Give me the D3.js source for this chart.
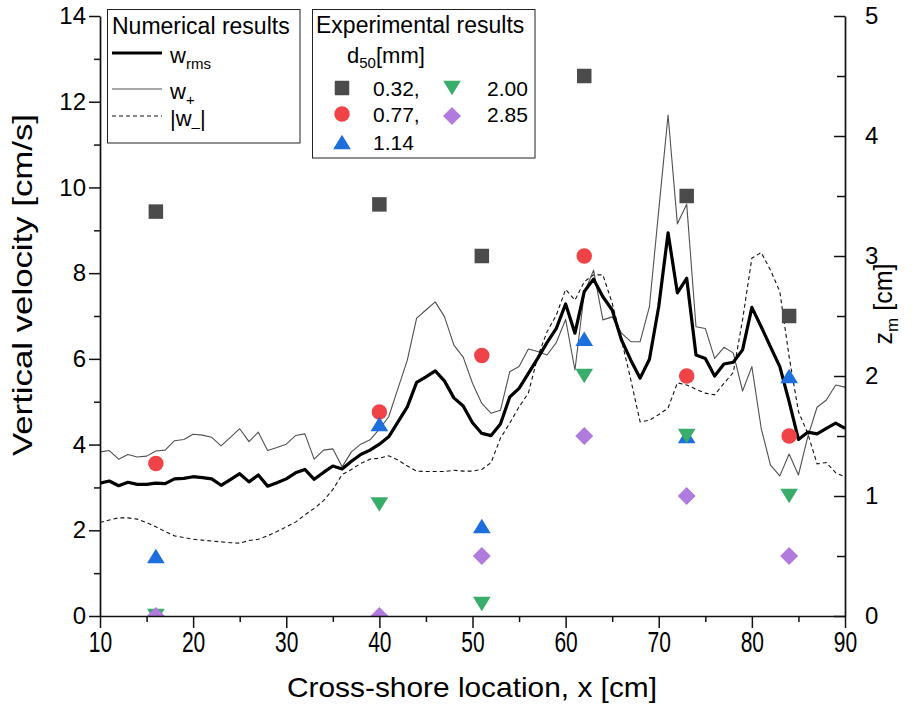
<!DOCTYPE html>
<html>
<head>
<meta charset="utf-8">
<script src="https://cdn.jsdelivr.net/npm/d3@7"></script>
<style>
  body { margin: 0; background: #fff; }
  svg { display: block; }
  text { font-family: "Liberation Sans", Arial, sans-serif; fill: #000; }
</style>
</head>
<body>
<svg id="chart" width="914" height="709"></svg>
<script>
// Cross-shore positions of the numerical profiles [cm]
const xGrid = [10,11,12,13,14,15,16,17,18,19,20,21,22,23,24,25,26,27,28,29,30,
  31,32,33,34,35,36,37,38,39,40,41,42,43,44,45,46,47,48,49,50,
  51,52,53,54,55,56,57,58,59,60,61,62,63,64,65,66,67,68,69,70,
  71,72,73,74,75,76,77,78,79,80,81,82,83,84,85,86,87,88,89,90];

// Numerical results: vertical velocity [cm/s]
const wRms = [3.10,3.15,3.04,3.12,3.07,3.07,3.10,3.09,3.20,3.21,3.25,3.23,3.20,3.05,3.18,3.32,3.13,3.29,3.03,3.11,3.20,
  3.34,3.42,3.19,3.35,3.50,3.43,3.61,3.77,3.87,4.01,4.18,4.53,4.88,5.45,5.58,5.72,5.48,5.09,4.90,4.51,
  4.26,4.21,4.48,5.11,5.31,5.66,6.01,6.38,6.71,7.28,6.60,7.57,7.86,7.45,7.14,6.44,5.97,5.55,5.99,7.22,
  8.94,7.54,7.88,6.09,6.01,5.60,5.88,5.92,6.21,7.20,6.75,6.28,5.82,5.00,4.12,4.29,4.25,4.38,4.50,4.38];

const wPlus = [3.83,3.86,3.66,3.77,3.71,3.73,3.85,3.87,4.09,4.12,4.24,4.22,4.17,3.97,4.17,4.37,4.07,4.29,3.86,3.93,4.01,
  4.21,4.25,3.66,3.87,3.90,3.48,3.83,4.01,4.11,4.36,4.65,5.31,5.97,6.95,7.14,7.33,6.98,6.32,6.04,5.43,
  4.96,4.73,4.80,5.70,5.82,6.23,6.17,6.09,6.38,6.92,5.74,7.53,8.07,6.91,6.98,6.60,6.40,6.40,7.22,9.47,
  11.69,9.15,9.61,6.75,6.71,6.01,6.27,6.14,5.25,5.82,4.38,3.52,3.27,3.78,3.29,4.18,4.87,5.04,5.39,5.34];

const wMinusAbs = [2.18,2.24,2.29,2.29,2.26,2.18,2.08,1.97,1.87,1.83,1.79,1.77,1.75,1.73,1.71,1.70,1.76,1.79,1.87,1.97,2.08,
  2.19,2.36,2.51,2.69,2.95,3.30,3.42,3.56,3.66,3.68,3.74,3.64,3.50,3.38,3.37,3.37,3.37,3.40,3.38,3.38,
  3.42,3.58,4.15,4.50,4.88,5.20,6.05,6.63,7.02,7.62,7.37,7.80,7.96,7.96,7.30,6.44,5.51,4.53,4.57,4.70,
  4.85,5.44,5.39,5.29,5.20,5.16,5.43,5.68,6.91,8.35,8.48,8.07,7.57,6.05,4.77,4.26,3.55,3.58,3.34,3.25];

// Experimental results: z_m [cm] at the measuring stations
const xStations = [16, 40, 51, 62, 73, 84];
const d50Labels = ["0.32,", "0.77,", "1.14", "2.00", "2.85"];
const zm032 = [3.37, 3.43, 3.00, 4.50, 3.50, 2.50];
const zm077 = [1.27, 1.70, 2.17, 3.00, 2.00, 1.50];
const zm114 = [0.50, 1.60, 0.75, 2.31, 1.50, 2.00];
const zm200 = [0.00, 0.93, 0.10, 2.00, 1.50, 1.00];
const zm285 = [0.00, 0.00, 0.50, 1.50, 1.00, 0.50];

// Axis ticks
const xTicks = [10, 20, 30, 40, 50, 60, 70, 80, 90];
const xMinorTicks = [15, 25, 35, 45, 55, 65, 75, 85];
const yLeftTicks = [0, 2, 4, 6, 8, 10, 12, 14];
const yLeftMinor = [1, 3, 5, 7, 9, 11, 13];
const yRightTicks = [0, 1, 2, 3, 4, 5];
const yRightMinor = [0.5, 1.5, 2.5, 3.5, 4.5];

const svg = d3.select("#chart");
const L = 100, R = 845, T = 16, B = 616;

const x = d3.scaleLinear().domain([10, 90]).range([L, R]);
const yL = d3.scaleLinear().domain([0, 14]).range([B, T]);
const yR = d3.scaleLinear().domain([0, 5]).range([B, T]);

svg.append("defs").append("clipPath").attr("id", "plotClip")
  .append("rect").attr("x", L).attr("y", T).attr("width", R - L).attr("height", B - T);

// Marker shapes, centred on their bounding box
const shapes = {
  square: s => `M${-s/2},${-s/2}h${s}v${s}h${-s}Z`,
  circle: s => { const r = s / 2; return `M${r},0A${r},${r} 0 1,1 ${-r},0A${r},${r} 0 1,1 ${r},0Z`; },
  up: s => { const w = s * 1.22 / 2, h = s / 2; return `M0,${-h}L${w},${h}L${-w},${h}Z`; },
  down: s => { const w = s * 1.22 / 2, h = s / 2; return `M0,${h}L${w},${-h}L${-w},${-h}Z`; },
  diamond: s => { const h = s / 2; return `M0,${-h}L${h},0L0,${h}L${-h},0Z`; }
};

const expSeries = [
  { label: d50Labels[0], values: zm032, shape: "square",  size: 14.5, color: "#4b4b4b" },
  { label: d50Labels[1], values: zm077, shape: "circle",  size: 15.5, color: "#f04347" },
  { label: d50Labels[2], values: zm114, shape: "up",      size: 14.5, color: "#1c6fdc" },
  { label: d50Labels[3], values: zm200, shape: "down",    size: 14.5, color: "#39ad6a" },
  { label: d50Labels[4], values: zm285, shape: "diamond", size: 18,   color: "#b07bdc" }
];

// Numerical profiles
const plot = svg.append("g").attr("clip-path", "url(#plotClip)");
const lineOf = vals => d3.line().x((d, i) => x(xGrid[i])).y(d => yL(d))(vals);

plot.append("path").attr("d", lineOf(wMinusAbs))
  .attr("fill", "none").attr("stroke", "#111").attr("stroke-width", 1.1)
  .attr("stroke-dasharray", "4,3");
plot.append("path").attr("d", lineOf(wPlus))
  .attr("fill", "none").attr("stroke", "#505050").attr("stroke-width", 1.1)
  .attr("stroke-linejoin", "round");
plot.append("path").attr("d", lineOf(wRms))
  .attr("fill", "none").attr("stroke", "#000").attr("stroke-width", 3.2)
  .attr("stroke-linejoin", "round");

// Experimental markers on the right axis
expSeries.forEach(s => {
  plot.append("g").selectAll("path").data(s.values).join("path")
    .attr("transform", (d, i) => `translate(${x(xStations[i])},${yR(d)})`)
    .attr("d", shapes[s.shape](s.size))
    .attr("fill", s.color);
});

// Axes
const axisStyle = g => {
  g.select(".domain").attr("stroke", "#111").attr("stroke-width", 1.7);
  g.selectAll(".tick line").attr("stroke", "#111").attr("stroke-width", 1.5);
};

const gx = svg.append("g").attr("transform", `translate(0,${B})`)
  .call(d3.axisBottom(x).tickValues(xTicks).tickSize(12).tickSizeOuter(0).tickPadding(3));
gx.call(axisStyle);
gx.selectAll(".tick text").attr("font-size", 30).attr("transform", "scale(0.7,1)")
  .style("font-family", '"Liberation Sans", Arial, sans-serif');
svg.append("g").attr("transform", `translate(0,${B})`)
  .call(d3.axisBottom(x).tickValues(xMinorTicks).tickSize(6).tickSizeOuter(0).tickFormat(""))
  .call(g => g.select(".domain").remove())
  .selectAll(".tick line").attr("stroke", "#111").attr("stroke-width", 1.5);

const gyl = svg.append("g").attr("transform", `translate(${L},0)`)
  .call(d3.axisLeft(yL).tickValues(yLeftTicks).tickFormat(d3.format("d"))
    .tickSize(11).tickSizeOuter(0).tickPadding(3));
gyl.call(axisStyle);
gyl.selectAll(".tick text").attr("font-size", 24);
svg.append("g").attr("transform", `translate(${L},0)`)
  .call(d3.axisLeft(yL).tickValues(yLeftMinor).tickSize(6).tickSizeOuter(0).tickFormat(""))
  .call(g => g.select(".domain").remove())
  .selectAll(".tick line").attr("stroke", "#111").attr("stroke-width", 1.5);

const gyr = svg.append("g").attr("transform", `translate(${R},0)`)
  .call(d3.axisRight(yR).tickValues(yRightTicks).tickFormat(d3.format("d"))
    .tickSize(-11).tickSizeOuter(0).tickPadding(20));
gyr.call(axisStyle);
gyr.selectAll(".tick text").attr("font-size", 24);
svg.append("g").attr("transform", `translate(${R},0)`)
  .call(d3.axisRight(yR).tickValues(yRightMinor).tickSize(-8).tickSizeOuter(0).tickFormat(""))
  .call(g => g.select(".domain").remove())
  .selectAll(".tick line").attr("stroke", "#111").attr("stroke-width", 1.5);

// Axis titles
svg.append("text").attr("x", (287 + 657) / 2).attr("y", 697)
  .attr("text-anchor", "middle").attr("font-size", 28)
  .attr("textLength", 370).attr("lengthAdjust", "spacingAndGlyphs")
  .text("Cross-shore location, x [cm]");

svg.append("text").attr("transform", "translate(32,285) rotate(-90)")
  .attr("text-anchor", "middle").attr("font-size", 28)
  .attr("textLength", 342).attr("lengthAdjust", "spacingAndGlyphs")
  .text("Vertical velocity [cm/s]");

const zt = svg.append("text").attr("transform", "translate(892,304) rotate(-90)")
  .attr("text-anchor", "middle").attr("font-size", 25);
zt.append("tspan").text("z");
zt.append("tspan").attr("font-size", 17).attr("dy", 6).text("m");
zt.append("tspan").attr("dy", -6).text(" [cm]");

// Legend: numerical results
const lg1 = svg.append("g");
lg1.append("rect").attr("x", 107.5).attr("y", 9.5).attr("width", 192.5).attr("height", 133.5)
  .attr("fill", "#fff").attr("stroke", "#222").attr("stroke-width", 1);
lg1.append("text").attr("x", 112).attr("y", 34).attr("font-size", 23).text("Numerical results");

const numRows = [
  { y: 53, width: 3.2, color: "#000", dash: null, base: "w", sub: "rms", tail: "", pre: "" },
  { y: 89, width: 1.1, color: "#505050", dash: null, base: "w", sub: "+", tail: "", pre: "" },
  { y: 116, width: 1.1, color: "#111", dash: "4,3", base: "w", sub: "\u2013", tail: "|", pre: "|" }
];
numRows.forEach(r => {
  lg1.append("line").attr("x1", 112).attr("x2", 162).attr("y1", r.y).attr("y2", r.y)
    .attr("stroke", r.color).attr("stroke-width", r.width)
    .attr("stroke-dasharray", r.dash);
  const t = lg1.append("text").attr("x", 170).attr("y", r.y + 10).attr("font-size", 22);
  if (r.pre) t.append("tspan").text(r.pre);
  t.append("tspan").text(r.base);
  t.append("tspan").attr("font-size", 15).attr("dy", 6).text(r.sub);
  if (r.tail) t.append("tspan").attr("dy", -6).text(r.tail);
});

// Legend: experimental results
const lg2 = svg.append("g");
lg2.append("rect").attr("x", 312.5).attr("y", 9.5).attr("width", 222.5).attr("height", 148.5)
  .attr("fill", "#fff").attr("stroke", "#222").attr("stroke-width", 1);
lg2.append("text").attr("x", 316).attr("y", 33).attr("font-size", 23).text("Experimental results");
const dt = lg2.append("text").attr("x", 347).attr("y", 63).attr("font-size", 22);
dt.append("tspan").text("d");
dt.append("tspan").attr("font-size", 15).attr("dy", 5).text("50");
dt.append("tspan").attr("dy", -5).text("[mm]");

const legendSlots = [
  { mx: 342, my: 88, tx: 373, ty: 96 },
  { mx: 342, my: 114, tx: 373, ty: 122 },
  { mx: 342, my: 142, tx: 373, ty: 150 },
  { mx: 452, my: 88, tx: 487, ty: 96 },
  { mx: 452, my: 116, tx: 487, ty: 122 }
];
expSeries.forEach((s, i) => {
  const p = legendSlots[i];
  lg2.append("path").attr("transform", `translate(${p.mx},${p.my})`)
    .attr("d", shapes[s.shape](s.size)).attr("fill", s.color);
  lg2.append("text").attr("x", p.tx).attr("y", p.ty).attr("font-size", 21).text(s.label);
});
</script>
</body>
</html>
